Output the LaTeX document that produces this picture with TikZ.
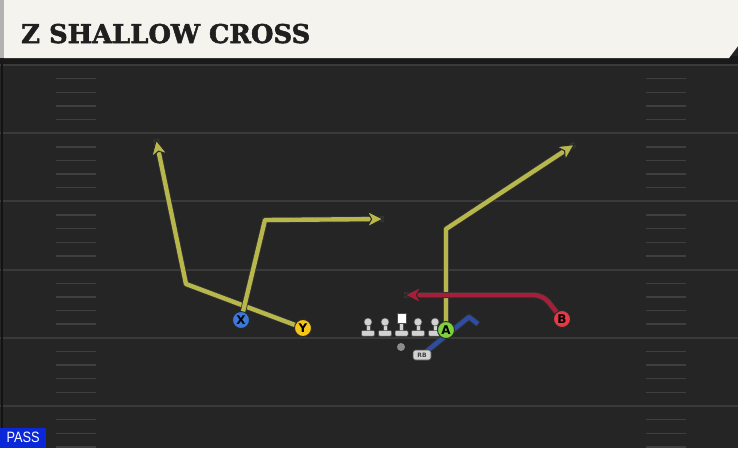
\documentclass[tikz,border=0pt]{standalone}
\usepackage{fontspec}
\setmainfont{DejaVu Sans}
\newfontfamily\titlefont[BoldFeatures={FakeBold=2}]{DejaVu Serif}
\newfontfamily\passfont{Liberation Sans}
\usepackage{tikz}
\pgfdeclarelayer{foreground}
\pgfsetlayers{main, foreground}
\usetikzlibrary{arrows.meta, calc, positioning}

\definecolor{fieldbg}{HTML}{252525}
\definecolor{yardline}{HTML}{3A3A3A}
\definecolor{hashline}{HTML}{3F3F3F}
\definecolor{headerbg}{HTML}{F5F3ED}
\definecolor{routeyellow}{HTML}{B8B74C}
\definecolor{routered}{HTML}{A31F3A}
\definecolor{routeblue}{HTML}{2F4DA0}
\definecolor{xblue}{HTML}{3C78D8}
\definecolor{yyellow}{HTML}{F5C518}
\definecolor{agreen}{HTML}{7CD13C}
\definecolor{bred}{HTML}{E53B45}
\definecolor{passblue}{HTML}{0A28D8}
\definecolor{linegray}{HTML}{D2D2D2}

\tikzset{
    player/.style={circle, draw=black!85, line width=0.9pt, minimum size=17pt, inner sep=0pt, font=\bfseries\fontsize{12}{12}\selectfont},
    route/.style={line width=4.4pt, line join=round, draw=#1, preaction={draw=black!80, line width=6pt, -}},
    tipyellow/.style={-{Stealth[length=18pt, width=18pt, inset=5pt, line width=1pt, color=black!85, fill=routeyellow]}},
    tipred/.style={-{Stealth[length=18pt, width=18pt, inset=5pt, line width=1pt, color=black!85, fill=routered]}},
    lineman/.style={fill=linegray, draw=black!70, line width=0.5pt},
}

\begin{document}
\begin{tikzpicture}[x=1pt, y=-1pt]
    % field
    \fill[fieldbg] (0,0) rectangle (738,448);
    \useasboundingbox (0,0) rectangle (738,448);
    \foreach \yl in {65,133.2,201.4,269.6,337.8,406} {
        \draw[yardline, line width=2pt] (0,\yl) -- (738,\yl);
        \foreach \k in {1,2,3,4} {
            \draw[hashline, line width=1.4pt] (56,\yl+13.64*\k) -- (96,\yl+13.64*\k);
            \draw[hashline, line width=1.4pt] (646,\yl+13.64*\k) -- (686,\yl+13.64*\k);
        }
    }
    \draw[yardline!120, line width=1.5pt] (2,60) -- (2,448);

    % header
    \fill[black!90] (0,56) rectangle (738,64);
    \fill[headerbg] (4,0) -- (738,0) -- (738,46) -- (729,58) -- (4,58) -- cycle;
    \fill[black!30] (0,0) rectangle (4,58);
    \node (Title) at (21,43) [anchor=base west, inner sep=0pt, text=black!88] {\resizebox{289pt}{!}{\titlefont\bfseries\fontsize{25}{25}\selectfont Z SHALLOW CROSS}};

    % players
    \begin{pgfonlayer}{foreground}
        % offensive line
        \foreach \lx in {368,385,418,435} {
            \fill[lineman] (\lx-2,323) rectangle (\lx+2,331.5);
            \fill[lineman] (\lx,322) circle (4pt);
            \fill[lineman, rounded corners=1pt] (\lx-6.5,330.5) rectangle (\lx+6.5,336);
        }
        \fill[lineman] (399.5,322) rectangle (403.5,331.5);
        \fill[white, draw=black!70, line width=0.5pt] (397,313.5) rectangle (406,323);
        \fill[lineman, rounded corners=1pt] (395,330.5) rectangle (408,336);

        \node (X) at (241,320) [player, fill=xblue] {X};
        \node (Y) at (303,328) [player, fill=yyellow] {Y};
        \node (A) at (446,330) [player, fill=agreen] {A};
        \node (B) at (562,319) [player, fill=bred] {B};
        \node (QB) at (401,347) [circle, fill=black!45, minimum size=8pt, inner sep=0pt] {};
        \node (RB) at (422,355) [rounded corners=2.5pt, fill=linegray, draw=black!70, line width=0.6pt, minimum width=18pt, minimum height=10pt, inner sep=0pt, font=\bfseries\fontsize{6}{6}\selectfont, text=black!75] {RB};
    \end{pgfonlayer}

    % route break points and ends
    \coordinate (Ybreak) at (186,284);
    \coordinate (Yend) at (156,139);
    \coordinate (Xbreak) at (265,220);
    \coordinate (Xend) at (384,219);
    \coordinate (Abreak) at (446,229);
    \coordinate (Aend) at (575,144);
    \coordinate (Bbreak) at (543,295);
    \coordinate (Bend) at (404,295);
    \coordinate (RBbreak) at (469,317);
    \coordinate (RBend) at (478,324);

    % routes
    \draw[route=routeyellow, tipyellow] (Y.center) -- (Ybreak) -- (Yend);
    \draw[route=routeyellow, tipyellow] (X.center) -- (Xbreak) -- (Xend);
    \draw[route=routeyellow, tipyellow] (A.center) -- (Abreak) -- (Aend);
    \draw[route=routered, tipred, rounded corners=9pt] (B.center) -- (Bbreak) -- (Bend);
    \draw[route=routeblue] (RB.center) -- (RBbreak) -- (RBend);

    % play type
    \node (Pass) at (0,448) [anchor=south west, fill=passblue, text=white, minimum width=46pt, minimum height=20pt, inner sep=0pt, font=\passfont\fontsize{15}{15}\selectfont] {\scalebox{0.85}[1]{PASS}};
\end{tikzpicture}
\end{document}
